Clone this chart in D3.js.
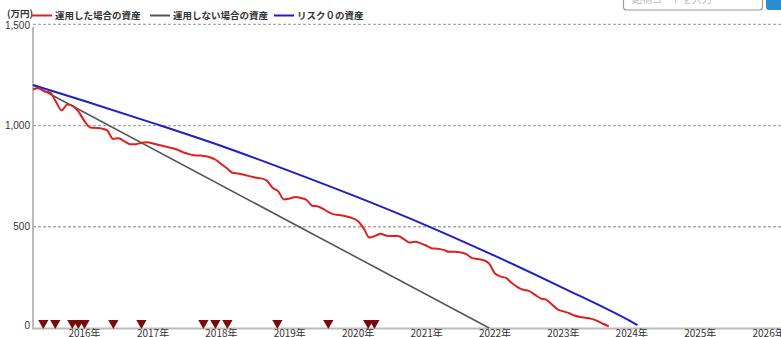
<!DOCTYPE html>
<html><head><meta charset="utf-8">
<script src="https://cdn.jsdelivr.net/npm/d3@7"></script>
<style>body{margin:0;background:#fff;overflow:hidden;} svg{display:block;}</style>
</head><body><svg id="c" width="781" height="337"></svg>
<script>
// ---- data ----
const yearTicks = [2016, 2017, 2018, 2019, 2020, 2021, 2022, 2023, 2024, 2025, 2026];
const yTicks = [0, 500, 1000, 1500];
const unitLabel = "(万円)";
const seriesNames = ["運用した場合の資産", "運用しない場合の資産", "リスク０の資産"];
const searchPlaceholder = "銘柄コードを入力";

// monthly, starting April 2015
const investedStart = "2015-04-01";
const investedValues = [
  1178, 1184, 1168, 1163, 1118, 1075, 1104, 1096, 1067, 1022, 990, 988,
  985, 976, 934, 937, 922, 908, 908, 915, 918, 911, 904, 898,
  891, 884, 872, 862, 854, 852, 850, 843, 831, 809, 788, 767,
  763, 757, 750, 743, 739, 728, 693, 675, 635, 640, 647, 642,
  632, 604, 600, 587, 570, 560, 557, 551, 543, 527, 490, 447,
  455, 465, 456, 455, 455, 439, 422, 426, 418, 406, 393, 392,
  386, 376, 376, 373, 365, 345, 341, 335, 318, 269, 254, 247,
  222, 202, 189, 183, 165, 146, 140, 116, 92, 82, 73, 62,
  54, 50, 45, 35, 21, 8
];
const noInvestDates = ["2015-04-01", "2021-12-01"];
const noInvestValues = [1200, 0];
const riskFreeDates = ["2015-04-01", "2016-01-01", "2017-01-01", "2018-01-01", "2019-01-01",
  "2020-01-01", "2021-01-01", "2022-01-01", "2023-01-01", "2024-01-01", "2024-02-01"];
const riskFreeValues = [1200, 1121, 1012, 899, 775, 645, 506, 356, 197, 30, 14];
const signalDates = ["2015-05-26", "2015-07-29", "2015-10-28", "2015-11-29", "2016-01-01",
  "2016-06-03", "2016-10-31", "2017-09-27", "2017-11-30", "2018-02-02", "2018-10-27",
  "2019-07-26", "2020-02-24", "2020-03-28"];

// ---- chart ----
const svg = d3.select("#c");
const font = "'Noto Sans CJK JP', 'Noto Sans', sans-serif";
const numFont = "'Liberation Sans', Arial, sans-serif";
const parse = d3.utcParse("%Y-%m-%d");

const x = d3.scaleUtc()
  .domain([Date.UTC(2015, 3, 1), Date.UTC(2026, 6, 1)])
  .range([33, 802.5]);
const y = d3.scaleLinear().domain([0, 1500]).range([328, 24.3]);

const invStart = parse(investedStart);
const invested = investedValues.map((v, i) => ({ d: d3.utcMonth.offset(invStart, i), v }));
const noInvest = noInvestDates.map((d, i) => ({ d: parse(d), v: noInvestValues[i] }));
const riskFree = riskFreeDates.map((d, i) => ({ d: parse(d), v: riskFreeValues[i] }));

// decorative search box (cropped at top)
svg.append("rect").attr("x", 623.5).attr("y", -12).attr("width", 139).attr("height", 22)
  .attr("rx", 3).attr("fill", "#fff").attr("stroke", "#999").attr("stroke-width", 1.2);
svg.append("text").attr("x", 632).attr("y", 3).attr("font-family", font).attr("font-size", 10)
  .attr("fill", "#bbb").text(searchPlaceholder);
svg.append("rect").attr("x", 766).attr("y", -12).attr("width", 30).attr("height", 22)
  .attr("rx", 3).attr("fill", "#2a8fd0");

// gridlines
svg.append("g").selectAll("line").data(yTicks.filter(t => t > 0)).join("line")
  .attr("x1", 33).attr("x2", 781)
  .attr("y1", d => y(d)).attr("y2", d => y(d))
  .attr("stroke", "#aaa").attr("stroke-width", 1.3).attr("stroke-dasharray", "3,2");

// axes lines
svg.append("line").attr("x1", 33).attr("x2", 33).attr("y1", 27).attr("y2", 329.5)
  .attr("stroke", "#aaa").attr("stroke-width", 1.6);
svg.append("line").attr("x1", 33).attr("x2", 781).attr("y1", y(0) + 0.5).attr("y2", y(0) + 0.5)
  .attr("stroke", "#bbb").attr("stroke-width", 2);

// y labels
svg.append("g").selectAll("text").data(yTicks).join("text")
  .attr("x", 30).attr("y", d => d === 0 ? y(d) + 0.5 : (d === 1500 ? y(d) + 4.5 : y(d) + 3.5))
  .attr("text-anchor", "end")
  .attr("font-family", numFont).attr("font-size", 10).attr("fill", "#333")
  .text(d => d3.format(",")(d));

// x labels
svg.append("g").selectAll("text").data(yearTicks).join("text")
  .attr("x", d => x(Date.UTC(d, 0, 1)))
  .attr("y", 336.5)
  .attr("text-anchor", "middle")
  .attr("font-family", font).attr("font-size", 10).attr("fill", "#333")
  .text(d => d + "年");

// lines
const mkLine = c => d3.line().x(p => x(p.d)).y(p => y(p.v)).curve(c);
svg.append("path").datum(noInvest).attr("d", mkLine(d3.curveLinear))
  .attr("fill", "none").attr("stroke", "#555").attr("stroke-width", 1.6);
svg.append("path").datum(riskFree).attr("d", mkLine(d3.curveMonotoneX))
  .attr("fill", "none").attr("stroke", "#1f1fc8").attr("stroke-width", 2);
svg.append("path").datum(invested).attr("d", mkLine(d3.curveMonotoneX))
  .attr("fill", "none").attr("stroke", "#e02020").attr("stroke-width", 2).attr("stroke-linejoin", "round");

// signal triangles
svg.append("g").selectAll("path").data(signalDates).join("path")
  .attr("d", d3.symbol().type(d3.symbolTriangle).size(46))
  .attr("transform", d => `translate(${x(parse(d))},${y(0) - 5}) rotate(180)`)
  .attr("fill", "#7a0a0a");

// legend
const lg = svg.append("g").attr("font-family", font).attr("font-size", 9.5).attr("font-weight", "bold").attr("fill", "#333");
lg.append("text").attr("x", 7).attr("y", 17).text(unitLabel);
const legendItems = [
  { name: seriesNames[0], color: "#e02020", x0: 32 },
  { name: seriesNames[1], color: "#555", x0: 150 },
  { name: seriesNames[2], color: "#1f1fc8", x0: 274 }
];
legendItems.forEach(it => {
  lg.append("line").attr("x1", it.x0).attr("x2", it.x0 + 20).attr("y1", 15.5).attr("y2", 15.5)
    .attr("stroke", it.color).attr("stroke-width", 2);
  lg.append("text").attr("x", it.x0 + 23).attr("y", 19).text(it.name);
});
</script></body></html>
